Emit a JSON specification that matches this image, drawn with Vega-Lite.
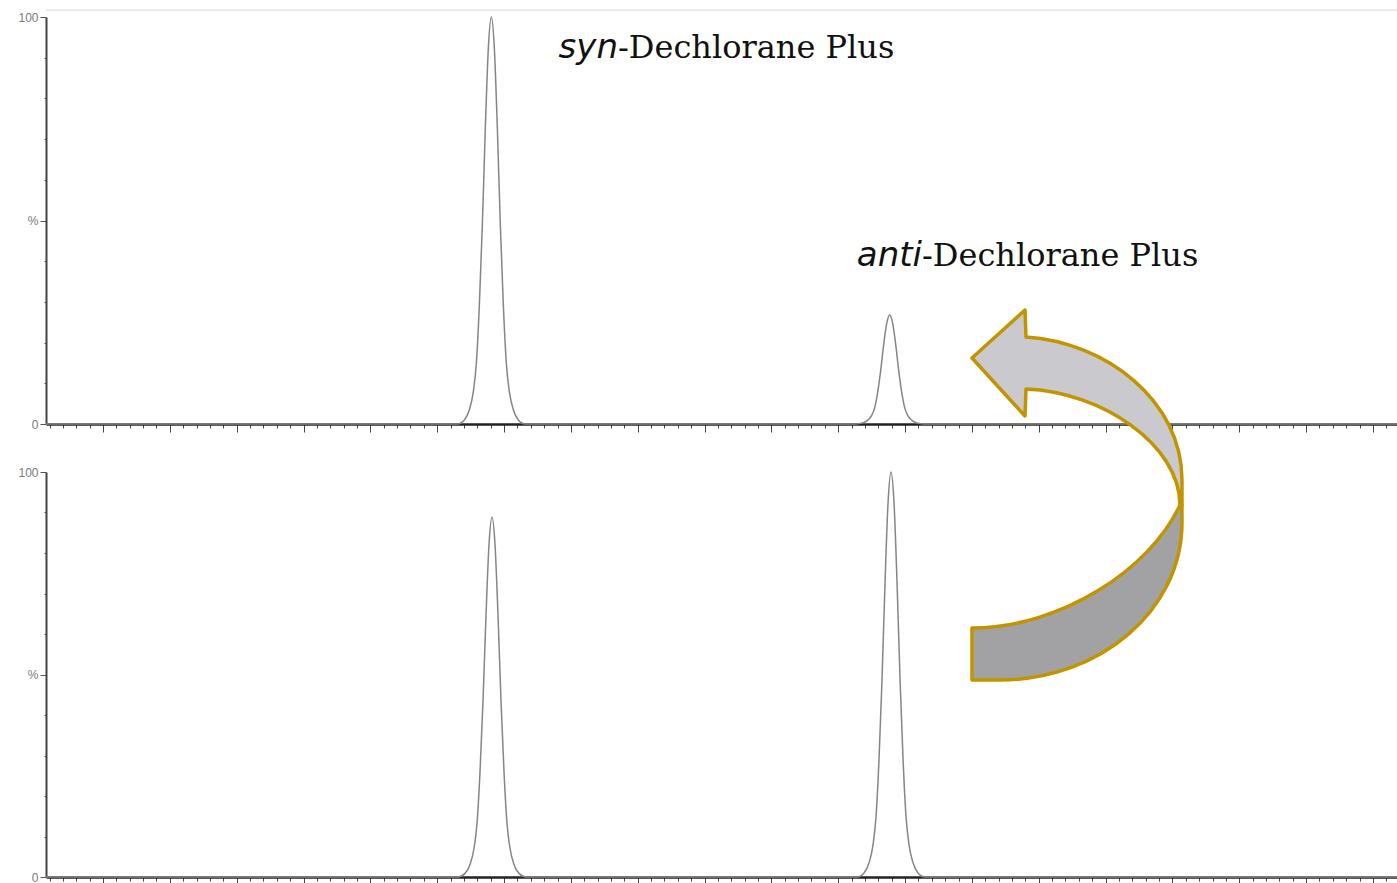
{
  "$schema": "https://vega.github.io/schema/vega-lite/v6.json",
  "background": "white",
  "padding": {"left": 17, "top": 9, "right": 0, "bottom": 0},
  "bounds": "flush",
  "spacing": 48,
  "config": {
    "view": {"stroke": null},
    "axisX": {
      "tickCount": 100,
      "labels": false,
      "grid": false,
      "title": null,
      "domainColor": "#222222",
      "domainWidth": 2.5,
      "tickColor": "#444444",
      "tickWidth": 1,
      "tickSize": {"condition": {"test": "abs(datum.value - round(datum.value)) < 0.01", "value": 8}, "value": 4}
    },
    "axisY": {
      "values": [0, 10, 20, 30, 40, 50, 60, 70, 80, 90, 100],
      "labelExpr": "datum.value == 100 ? '100' : datum.value == 50 ? '%' : datum.value == 0 ? '0' : ''",
      "labelOverlap": false,
      "labelFont": "Liberation Sans",
      "labelFontSize": 12,
      "labelColor": "#7a7a7a",
      "labelPadding": 2,
      "grid": false,
      "title": null,
      "domainColor": "#444444",
      "domainWidth": 2,
      "tickColor": "#555555",
      "tickWidth": 1,
      "tickSize": {"condition": {"test": "datum.value % 50 == 0", "value": 6}, "value": 2}
    }
  },
  "datasets": {
    "top": [
      {"t": 12.147, "v": 0}, {"t": 18.301, "v": 0}, {"t": 18.406, "v": 1.0}, {"t": 18.481, "v": 3.5},
      {"t": 18.541, "v": 8}, {"t": 18.586, "v": 15}, {"t": 18.63, "v": 29}, {"t": 18.675, "v": 48.7},
      {"t": 18.72, "v": 72.6}, {"t": 18.765, "v": 92.3}, {"t": 18.81, "v": 100}, {"t": 18.855, "v": 92.3},
      {"t": 18.9, "v": 72.6}, {"t": 18.945, "v": 48.7}, {"t": 18.99, "v": 29}, {"t": 19.034, "v": 15},
      {"t": 19.079, "v": 8}, {"t": 19.139, "v": 3.5}, {"t": 19.214, "v": 1.0}, {"t": 19.319, "v": 0},
      {"t": 24.261, "v": 0}, {"t": 24.366, "v": 0.27}, {"t": 24.441, "v": 0.94}, {"t": 24.501, "v": 2.14},
      {"t": 24.546, "v": 4.02}, {"t": 24.59, "v": 7.77}, {"t": 24.635, "v": 13.1}, {"t": 24.68, "v": 19.5},
      {"t": 24.725, "v": 24.7}, {"t": 24.77, "v": 26.8}, {"t": 24.815, "v": 24.7}, {"t": 24.86, "v": 19.5},
      {"t": 24.905, "v": 13.1}, {"t": 24.95, "v": 7.77}, {"t": 24.994, "v": 4.02}, {"t": 25.039, "v": 2.14},
      {"t": 25.099, "v": 0.94}, {"t": 25.174, "v": 0.27}, {"t": 25.279, "v": 0}, {"t": 32.36, "v": 0}
    ],
    "bottom": [
      {"t": 12.147, "v": 0}, {"t": 18.311, "v": 0}, {"t": 18.416, "v": 0.89}, {"t": 18.491, "v": 3.1},
      {"t": 18.551, "v": 7.1}, {"t": 18.596, "v": 13.3}, {"t": 18.64, "v": 25.8}, {"t": 18.685, "v": 43.3},
      {"t": 18.73, "v": 64.5}, {"t": 18.775, "v": 82.1}, {"t": 18.82, "v": 88.9}, {"t": 18.865, "v": 82.1},
      {"t": 18.91, "v": 64.5}, {"t": 18.955, "v": 43.3}, {"t": 19.0, "v": 25.8}, {"t": 19.044, "v": 13.3},
      {"t": 19.089, "v": 7.1}, {"t": 19.149, "v": 3.1}, {"t": 19.224, "v": 0.89}, {"t": 19.329, "v": 0},
      {"t": 24.281, "v": 0}, {"t": 24.386, "v": 1.0}, {"t": 24.461, "v": 3.5}, {"t": 24.521, "v": 8},
      {"t": 24.566, "v": 15}, {"t": 24.61, "v": 29}, {"t": 24.655, "v": 48.7}, {"t": 24.7, "v": 72.6},
      {"t": 24.745, "v": 92.3}, {"t": 24.79, "v": 100}, {"t": 24.835, "v": 92.3}, {"t": 24.88, "v": 72.6},
      {"t": 24.925, "v": 48.7}, {"t": 24.97, "v": 29}, {"t": 25.014, "v": 15}, {"t": 25.059, "v": 8},
      {"t": 25.119, "v": 3.5}, {"t": 25.194, "v": 1.0}, {"t": 25.299, "v": 0}, {"t": 32.36, "v": 0}
    ],
    "labels": [
      {"t": 20.705, "v": 90.0, "prefix": "syn", "name": "-Dechlorane Plus"},
      {"t": 25.253, "v": 38.9, "prefix": "anti", "name": "-Dechlorane Plus"}
    ],
    "arrow": [
      {"t": 27.617, "v": 93.09}
    ],
    "frame": [
      {"v": 101.7}
    ]
  },
  "vconcat": [
    {
      "width": 1351,
      "height": 407,
      "layer": [
        {
          "data": {"name": "frame"},
          "mark": {"type": "rule", "color": "#d6d6d6", "strokeWidth": 1},
          "encoding": {"y": {"field": "v", "type": "quantitative"}}
        },
        {
          "data": {"name": "top"},
          "mark": {"type": "line", "color": "#858585", "strokeWidth": 1.5, "interpolate": "monotone"},
          "encoding": {
            "x": {"field": "t", "type": "quantitative", "scale": {"domain": [12.147, 32.36], "nice": false, "zero": false}},
            "y": {"field": "v", "type": "quantitative", "scale": {"domain": [0, 100], "nice": false}}
          }
        },
        {
          "data": {"name": "labels"},
          "mark": {"type": "text", "font": "DejaVu Sans", "fontStyle": "italic", "fontSize": 34, "align": "right", "baseline": "alphabetic", "color": "#111111"},
          "encoding": {
            "x": {"field": "t", "type": "quantitative"},
            "y": {"field": "v", "type": "quantitative"},
            "text": {"field": "prefix"}
          }
        },
        {
          "data": {"name": "labels"},
          "mark": {"type": "text", "font": "DejaVu Serif", "fontSize": 32, "align": "left", "baseline": "alphabetic", "color": "#111111"},
          "encoding": {
            "x": {"field": "t", "type": "quantitative"},
            "y": {"field": "v", "type": "quantitative"},
            "text": {"field": "name"}
          }
        }
      ]
    },
    {
      "width": 1351,
      "height": 405,
      "layer": [
        {
          "data": {"name": "bottom"},
          "mark": {"type": "line", "color": "#858585", "strokeWidth": 1.5, "interpolate": "monotone"},
          "encoding": {
            "x": {"field": "t", "type": "quantitative", "scale": {"domain": [12.147, 32.36], "nice": false, "zero": false}},
            "y": {"field": "v", "type": "quantitative", "scale": {"domain": [0, 100], "nice": false}}
          }
        },
        {
          "data": {"name": "arrow"},
          "mark": {"type": "point", "shape": "M 1.00 0.05 L 1.02 0.05 L 1.02 0.23 C 1.02 1.10 0.20 1.80 -0.80 1.80 L -1.08 1.80 L -1.08 1.28 C -0.20 1.28 0.70 0.70 1.00 0.05 Z", "size": 40000, "filled": true, "fill": "#a2a2a4", "stroke": "#c29400", "strokeWidth": 3.5, "opacity": 1, "strokeJoin": "round"},
          "encoding": {
            "x": {"field": "t", "type": "quantitative"},
            "y": {"field": "v", "type": "quantitative"}
          }
        },
        {
          "data": {"name": "arrow"},
          "mark": {"type": "point", "shape": "M -1.08 -1.42 L -0.55 -1.90 L -0.54 -1.63 C 0.25 -1.58 1.02 -1.00 1.02 -0.20 L 1.02 0.05 L 1.00 0.05 C 1.00 -0.55 0.22 -1.08 -0.54 -1.11 L -0.55 -0.84 Z", "size": 40000, "filled": true, "fill": "#cacace", "stroke": "#c29400", "strokeWidth": 3.5, "opacity": 1, "strokeJoin": "round"},
          "encoding": {
            "x": {"field": "t", "type": "quantitative"},
            "y": {"field": "v", "type": "quantitative"}
          }
        }
      ]
    }
  ]
}
